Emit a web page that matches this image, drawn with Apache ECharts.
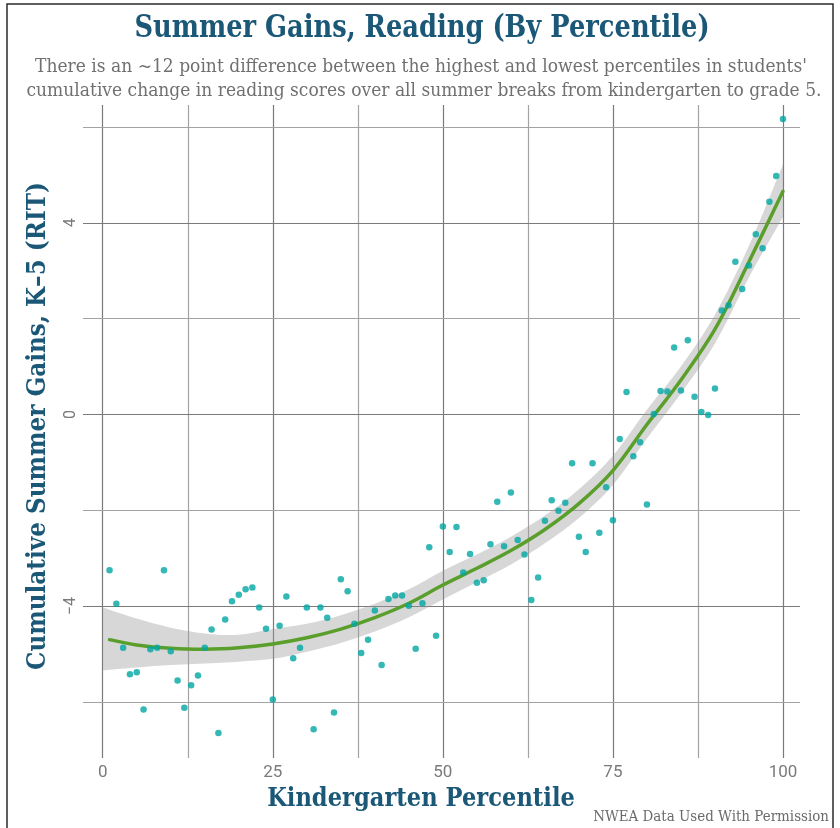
<!DOCTYPE html>
<html>
<head>
<meta charset="utf-8">
<script src="https://cdn.jsdelivr.net/npm/echarts@6/dist/echarts.min.js"></script>
<style>
  html, body { margin: 0; padding: 0; background: #ffffff; }
  #chart { width: 840px; height: 828px; }
</style>
</head>
<body>
<div id="chart"></div>
<script>
// Kindergarten percentile of each student group
const percentile = [
  1, 2, 3, 4, 5, 6, 7, 8, 9, 10, 11, 12, 13, 14, 15, 16, 17, 18, 19, 20,
  21, 22, 23, 24, 25, 26, 27, 28, 29, 30, 31, 32, 33, 34, 35, 36, 37, 38, 39, 40,
  41, 42, 43, 44, 45, 46, 47, 48, 49, 50, 51, 52, 53, 54, 55, 56, 57, 58, 59, 60,
  61, 62, 63, 64, 65, 66, 67, 68, 69, 70, 71, 72, 73, 74, 75, 76, 77, 78, 79, 80,
  81, 82, 83, 84, 85, 86, 87, 88, 89, 90, 91, 92, 93, 94, 95, 96, 97, 98, 99, 100
];

// Cumulative summer gains K-5 (RIT points)
const summerGain = [
  -3.25, -3.95, -4.87, -5.42, -5.38, -6.16, -4.90, -4.87, -3.25, -4.94,
  -5.55, -6.12, -5.65, -5.45, -4.87, -4.49, -6.65, -4.28, -3.90, -3.76,
  -3.65, -3.61, -4.03, -4.47, -5.95, -4.41, -3.80, -5.09, -4.87, -4.03,
  -6.57, -4.03, -4.24, -6.22, -3.44, -3.69, -4.37, -4.98, -4.70, -4.09,
  -5.23, -3.85, -3.78, -3.78, -3.99, -4.89, -3.94, -2.77, -4.62, -2.34,
  -2.87, -2.35, -3.30, -2.91, -3.51, -3.46, -2.71, -1.82, -2.75, -1.63,
  -2.62, -2.92, -3.87, -3.40, -2.22, -1.79, -2.01, -1.84, -1.02, -2.55,
  -2.87, -1.02, -2.47, -1.52, -2.21, -0.51, 0.47, -0.87, -0.58, -1.88,
  0.01, 0.49, 0.48, 1.40, 0.50, 1.55, 0.37, 0.05, -0.01, 0.54,
  2.17, 2.28, 3.19, 2.62, 3.11, 3.76, 3.47, 4.44, 4.98, 6.17
];

// Smoothed trend
const fitPercentile = [1, 5, 10, 15, 20, 25, 30, 35, 40, 45, 50, 55, 60, 65, 70, 75, 80, 85, 90, 95, 100];
const fitGain = [-4.70, -4.81, -4.88, -4.90, -4.87, -4.79, -4.66, -4.48, -4.24, -3.94, -3.56, -3.21, -2.84, -2.40, -1.86, -1.17, -0.21, 0.72, 1.78, 3.19, 4.66];

// Confidence band around the trend
const bandPercentile = [0, 5, 10, 15, 20, 25, 30, 35, 40, 45, 50, 55, 60, 65, 70, 75, 80, 85, 90, 95, 100];
const bandUpper = [-4.03, -4.26, -4.45, -4.57, -4.60, -4.48, -4.37, -4.19, -3.95, -3.65, -3.26, -2.92, -2.55, -2.11, -1.56, -0.86, 0.10, 1.00, 2.08, 3.52, 5.22];
const bandLower = [-5.34, -5.28, -5.23, -5.20, -5.16, -5.10, -4.95, -4.77, -4.53, -4.23, -3.86, -3.50, -3.13, -2.69, -2.16, -1.47, -0.50, 0.44, 1.48, 2.86, 4.12];

// Axis ticks and grid
const xTickLabels = [0, 25, 50, 75, 100];
const yTickLabels = [-4, 0, 4];
const xMajorGrid = [0, 25, 50, 75, 100];
const xMinorGrid = [12.5, 37.5, 62.5, 87.5];
const yMajorGrid = [-4, 0, 4];
const yMinorGrid = [-6, -2, 2, 6];

const TITLE_BLUE = '#1b5877';
const MAJOR_GRID = '#7a7a7a';
const MINOR_GRID = '#a3a3a3';

const chart = echarts.init(document.getElementById('chart'), null, { renderer: 'canvas' });

const gridLines = []
  .concat(xMajorGrid.map(v => ({ xAxis: v, lineStyle: { color: MAJOR_GRID } })))
  .concat(xMinorGrid.map(v => ({ xAxis: v, lineStyle: { color: MINOR_GRID } })))
  .concat(yMajorGrid.map(v => ({ yAxis: v, lineStyle: { color: MAJOR_GRID } })))
  .concat(yMinorGrid.map(v => ({ yAxis: v, lineStyle: { color: MINOR_GRID } })));

// Catmull-Rom curve through pixel points, appended as cubic segments
function curveSegments(pts) {
  let d = '';
  for (let i = 0; i < pts.length - 1; i++) {
    const p0 = pts[Math.max(i - 1, 0)];
    const p1 = pts[i];
    const p2 = pts[i + 1];
    const p3 = pts[Math.min(i + 2, pts.length - 1)];
    const c1x = p1[0] + (p2[0] - p0[0]) / 6;
    const c1y = p1[1] + (p2[1] - p0[1]) / 6;
    const c2x = p2[0] - (p3[0] - p1[0]) / 6;
    const c2y = p2[1] - (p3[1] - p1[1]) / 6;
    d += ' C' + c1x + ',' + c1y + ' ' + c2x + ',' + c2y + ' ' + p2[0] + ',' + p2[1];
  }
  return d;
}

const option = {
  backgroundColor: '#ffffff',
  animation: false,
  grid: { left: 83, top: 105, width: 717, height: 653, containLabel: false },
  xAxis: {
    type: 'value',
    min: -2.9,
    max: 102.5,
    axisLine: { show: false },
    axisTick: { show: false },
    splitLine: { show: false },
    axisLabel: {
      customValues: xTickLabels,
      color: '#7a7a7a',
      fontFamily: 'Roboto',
      fontSize: 17,
      margin: 6
    }
  },
  yAxis: {
    type: 'value',
    min: -7.17,
    max: 6.46,
    axisLine: { show: false },
    axisTick: { show: false },
    splitLine: { show: false },
    axisLabel: {
      customValues: yTickLabels,
      rotate: 90,
      color: '#7a7a7a',
      fontFamily: 'Roboto',
      fontSize: 16,
      margin: 4,
      formatter: v => String(v).replace('-', '\u2212')
    }
  },
  series: [
    {
      type: 'custom',
      name: 'band',
      coordinateSystem: 'cartesian2d',
      z: 1,
      silent: true,
      data: [[bandPercentile[0], bandUpper[0]]],
      renderItem: function (params, api) {
        const upper = bandPercentile.map((x, i) => api.coord([x, bandUpper[i]]));
        const lower = bandPercentile.map((x, i) => api.coord([x, bandLower[i]])).reverse();
        let d = 'M' + upper[0][0] + ',' + upper[0][1] + curveSegments(upper);
        d += ' L' + lower[0][0] + ',' + lower[0][1] + curveSegments(lower) + ' Z';
        return {
          type: 'path',
          shape: { pathData: d },
          style: { fill: 'rgba(150,150,150,0.38)', stroke: null }
        };
      }
    },
    {
      type: 'line',
      name: 'trend',
      z: 2,
      silent: true,
      smooth: 0.35,
      showSymbol: false,
      data: fitPercentile.map((x, i) => [x, fitGain[i]]),
      lineStyle: { color: '#5a9e2c', width: 3.5, cap: 'round' }
    },
    {
      type: 'scatter',
      name: 'groups',
      z: 3,
      silent: true,
      symbolSize: 6.5,
      data: percentile.map((x, i) => [x, summerGain[i]]),
      itemStyle: { color: '#00a6a4' },
      markLine: {
        silent: true,
        symbol: ['none', 'none'],
        label: { show: false },
        z: 0,
        lineStyle: { type: 'solid', width: 1.2 },
        data: gridLines
      }
    }
  ],
  graphic: [
    {
      type: 'rect',
      silent: true,
      shape: { x: 7, y: 4, width: 826, height: 840 },
      style: { fill: null, stroke: '#2b2b2b', lineWidth: 1.5 }
    },
    {
      type: 'text',
      x: 422, y: 29,
      scaleX: 0.83,
      style: {
        text: 'Summer Gains, Reading (By Percentile)',
        font: 'bold 31px "DejaVu Serif"',
        fill: TITLE_BLUE,
        align: 'center',
        verticalAlign: 'middle'
      }
    },
    {
      type: 'text',
      x: 421, y: 67,
      scaleX: 0.95,
      style: {
        text: 'There is an ~12 point difference between the highest and lowest percentiles in students\'',
        font: '18px "DejaVu Serif"',
        fill: '#707070',
        align: 'center',
        verticalAlign: 'middle'
      }
    },
    {
      type: 'text',
      x: 424, y: 91,
      scaleX: 0.95,
      style: {
        text: 'cumulative change in reading scores over all summer breaks from kindergarten to grade 5.',
        font: '18px "DejaVu Serif"',
        fill: '#707070',
        align: 'center',
        verticalAlign: 'middle'
      }
    },
    {
      type: 'text',
      x: 38, y: 426,
      rotation: Math.PI / 2,
      scaleX: 0.89,
      style: {
        text: 'Cumulative Summer Gains, K\u20135 (RIT)',
        font: 'bold 26px "DejaVu Serif"',
        fill: TITLE_BLUE,
        align: 'center',
        verticalAlign: 'middle'
      }
    },
    {
      type: 'text',
      x: 421, y: 799,
      scaleX: 0.87,
      style: {
        text: 'Kindergarten Percentile',
        font: 'bold 26px "DejaVu Serif"',
        fill: TITLE_BLUE,
        align: 'center',
        verticalAlign: 'middle'
      }
    },
    {
      type: 'text',
      x: 829, y: 817,
      scaleX: 0.96,
      style: {
        text: 'NWEA Data Used With Permission',
        font: '14px "DejaVu Serif"',
        fill: '#6a6a6a',
        align: 'right',
        verticalAlign: 'middle'
      }
    }
  ]
};

chart.setOption(option);
</script>
</body>
</html>
